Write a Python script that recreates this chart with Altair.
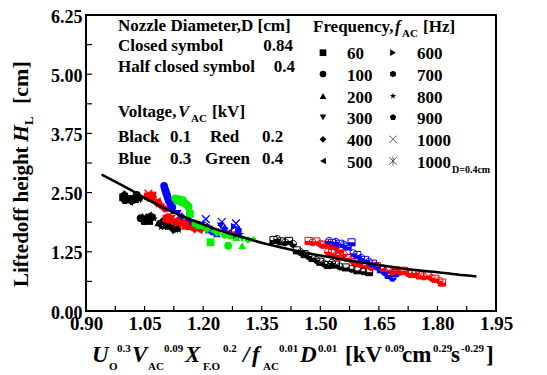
import altair as alt
import pandas as pd

# ---------------- data ----------------
# closed symbols : nozzle D = 0.84 cm
BLK_X = [0.995,1.000,1.005,1.010,1.015,1.020,1.025,1.030,1.035,1.040,0.998,1.012,1.028,
         1.040,1.045,1.050,1.055,1.060,1.065,1.070,1.075,1.048,1.062,
         1.085,1.090,1.095,1.100,1.105,1.110,1.092,1.108,
         1.118,1.122,1.126,1.130,1.134,1.138]
BLK_Y = [2.40,2.34,2.44,2.38,2.32,2.42,2.36,2.45,2.39,2.35,2.47,2.30,2.33,
         1.96,2.00,1.92,1.98,2.02,1.94,1.99,1.95,1.88,1.90,
         1.86,1.82,1.90,1.84,1.80,1.87,1.77,1.78,
         1.76,1.72,1.78,1.70,1.75,1.71]
BLK_F = ['60','100','200','300','400','500','60','100','200','300','400','500','600',
         '100','200','300','400','500','600','700','800','900','60',
         '200','300','400','500','600','700','800','900',
         '300','400','500','600','700','800']

RED_X = [1.058,1.063,1.068,1.073,1.078,1.083,1.088,1.093,1.098,1.103,1.070,1.085,
         1.106,1.110,1.115,1.120,1.125,1.130,1.135,1.140,1.145,1.150,1.155,1.160,
         1.165,1.170,1.178,1.190,1.205,1.220,1.240,1.260,1.278]
RED_Y = [2.42,2.38,2.40,2.35,2.30,2.32,2.26,2.22,2.18,2.15,2.44,2.28,
         1.95,1.98,1.92,1.96,1.88,1.93,1.85,1.90,1.82,1.87,1.80,1.84,
         1.78,1.75,1.72,1.70,1.74,1.72,1.68,1.64,1.60]
RED_F = ['60','100','200','300','400','500','600','700','800','900','60','100',
         '60','100','200','300','400','500','600','700','800','900','60','100',
         '200','300','400','500','600','700','800','900','60']

BLU_X = [1.100,1.102,1.104,1.106,1.108,1.110,1.112,1.115,1.118,1.121,
         1.125,1.135,1.145,1.160,1.175,1.190,1.200,1.210,1.215,1.225,1.235,
         1.245,1.255,1.265,1.280,1.290,1.295,1.285]
BLU_Y = [2.64,2.58,2.53,2.48,2.43,2.38,2.33,2.28,2.23,2.19,
         2.12,2.06,2.00,1.94,1.88,1.82,1.86,1.78,1.72,1.68,1.63,
         1.80,1.74,1.66,1.78,1.70,1.62,1.57]
BLU_F = ['100','100','100','100','100','100','100','100','100','100',
         '200','300','400','500','600','700','800','900','60','100','200',
         '300','400','500','600','700','800','900']

GRN_X = [1.128,1.133,1.138,1.143,1.148,1.153,1.158,1.163,1.166,
         1.180,1.190,1.200,1.210,1.225,1.240,1.255,1.270,1.285,1.300,1.315,1.329,
         1.219,1.264,1.300]
GRN_Y = [2.38,2.33,2.36,2.30,2.34,2.27,2.25,2.20,2.05,
         1.85,1.80,1.77,1.72,1.68,1.64,1.60,1.58,1.55,1.52,1.50,1.52,
         1.45,1.38,1.38]
GRN_F = ['100','100','100','100','100','100','100','100','60',
         '100','200','300','400','500','600','700','900','200','300','400','800',
         '60','100','200']

# 1000 Hz crosses (closed series)
X1K_X = [1.060, 1.207, 1.248, 1.284]
X1K_Y = [2.48, 1.94, 1.88, 1.85]
X1K_V = ['0.2', '0.3', '0.3', '0.3']

# half closed symbols : nozzle D = 0.4 cm
HB_X = [1.380,1.390,1.400,1.410,1.420,1.430,1.440,1.450,1.460,1.470,1.480,1.490,
        1.500,1.510,1.520,1.530,1.540,1.550,1.565,1.580,1.595,1.610,1.625]
HB_Y = [1.50,1.52,1.47,1.45,1.48,1.42,1.28,1.24,1.20,1.16,1.12,1.08,
        1.04,1.00,0.97,1.02,0.98,0.94,0.92,0.89,0.86,0.84,0.82]
HB_S = ['sq','ci','sq','ci','sq','ci','sq','ci','sq','ci','sq','ci',
        'sq','ci','sq','ci','sq','ci','sq','ci','sq','ci','sq']

HR_X = [1.470,1.480,1.490,1.500,1.510,1.520,1.530,1.540,1.550,
        1.520,1.530,1.540,1.550,1.560,1.570,1.580,1.590,
        1.600,1.615,1.630,1.645,1.660,1.675,1.685,
        1.695,1.705,1.715,1.725,1.735,1.745,1.755,1.765,1.775,1.785,1.795,1.805,1.812]
HR_Y = [1.48,1.45,1.47,1.42,1.40,1.44,1.38,1.35,1.30,
        1.25,1.22,1.18,1.15,1.20,1.12,1.08,1.03,
        1.00,0.97,0.93,0.95,0.90,0.86,0.83,
        0.86,0.83,0.85,0.80,0.78,0.80,0.75,0.73,0.75,0.70,0.68,0.64,0.60]
HR_S = ['sq','ci','sq','ci','sq','ci','sq','ci','sq',
        'ci','sq','ci','sq','ci','sq','ci','sq',
        'ci','sq','ci','sq','ci','sq','ci',
        'sq','ci','sq','ci','sq','ci','sq','ci','sq','ci','sq','ci','sq']

HU_X = [1.522,1.530,1.540,1.550,1.560,1.570,1.580,1.585,1.595,1.605,1.615,1.625,
        1.635,1.645,1.655,1.665,1.675,1.685,1.692]
HU_Y = [1.48,1.44,1.46,1.42,1.40,1.36,1.45,1.22,1.18,1.12,1.08,1.04,
        1.00,0.94,0.88,0.82,0.76,0.70,0.80]
HU_S = ['ci','sq','ci','sq','ci','sq','sq','ci','sq','ci','sq','ci',
        'sq','ci','sq','ci','sq','ci','sq']

# fitted curve
FIT_X = [0.94,1.00,1.05,1.10,1.15,1.20,1.25,1.30,1.35,1.40,1.45,1.50,1.55,1.60,
         1.65,1.70,1.75,1.80,1.85,1.90]
FIT_Y = [2.88,2.62,2.39,2.17,1.99,1.83,1.68,1.56,1.44,1.34,1.25,1.17,1.10,1.03,
         0.97,0.91,0.86,0.82,0.77,0.73]

X_LABELS = [0.90,1.05,1.20,1.35,1.50,1.65,1.80,1.95]
Y_LABELS = [0.00,1.25,2.50,3.75,5.00,6.25]
X_TICKS = [0.900,0.975,1.050,1.125,1.200,1.275,1.350,1.425,1.500,1.575,1.650,
           1.725,1.800,1.875,1.950]
Y_TICKS = [0.0,0.625,1.25,1.875,2.5,3.125,3.75,4.375,5.0,5.625,6.25]

VOLTS = ['0.1','0.2','0.3','0.4']
VOLT_COLORS = ['#000000','#ff0000','#0000ff','#00ee00']
FREQS = ['60','100','200','300','400','500','600','700','800','900']
LEG_COL1 = ['60','100','200','300','400','500']
LEG_COL2 = ['600','700','800','900','1000','1000']

# ---------------- symbols ----------------
SQ = "M-1,-1L1,-1L1,1L-1,1Z"
HEX = "M0,-1L0.866,-0.5L0.866,0.5L0,1L-0.866,0.5L-0.866,-0.5Z"
STAR = ("M0,-1L0.235,-0.324L0.951,-0.309L0.38,0.124L0.588,0.809L0,0.4L-0.588,0.809"
        "L-0.38,0.124L-0.951,-0.309L-0.235,-0.324Z")
PENT = "M0,-1L0.951,-0.309L0.588,0.809L-0.588,0.809L-0.951,-0.309Z"
XP = "M-1,-1L1,1M-1,1L1,-1"
AST = "M-1,-1L1,1M-1,1L1,-1M0,-1.2L0,1.2"
CIRC = ("M1,0L0.924,0.383L0.707,0.707L0.383,0.924L0,1L-0.383,0.924L-0.707,0.707"
        "L-0.924,0.383L-1,0L-0.924,-0.383L-0.707,-0.707L-0.383,-0.924L0,-1L0.383,-0.924"
        "L0.707,-0.707L0.924,-0.383Z")
HSQ = "M-1,0L1,0L1,1L-1,1Z"
HCI = ("M1,0L0.924,0.383L0.707,0.707L0.383,0.924L0,1L-0.383,0.924L-0.707,0.707"
       "L-0.924,0.383L-1,0Z")
FREQ_SHAPES = [SQ,'circle','triangle-up','triangle-down','diamond','triangle-left',
               'triangle-right',HEX,STAR,PENT]
LEG_SH1 = [SQ,'circle','triangle-up','triangle-down','diamond','triangle-left']
LEG_SH2 = ['triangle-right',HEX,STAR,PENT,XP,AST]

# ---------------- tables ----------------
rows = []
for xs, ys, fs, v in [(BLK_X,BLK_Y,BLK_F,'0.1'),(RED_X,RED_Y,RED_F,'0.2'),
                      (BLU_X,BLU_Y,BLU_F,'0.3'),(GRN_X,GRN_Y,GRN_F,'0.4')]:
    for a, b, f in zip(xs, ys, fs):
        rows.append({'x': a, 'y': b, 'f': f, 'v': v})
closed = pd.DataFrame(rows)
crosses = pd.DataFrame({'x': X1K_X, 'y': X1K_Y, 'v': X1K_V})
hrows = []
for xs, ys, ss, v in [(HB_X,HB_Y,HB_S,'0.1'),(HR_X,HR_Y,HR_S,'0.2'),(HU_X,HU_Y,HU_S,'0.3')]:
    for a, b, s in zip(xs, ys, ss):
        hrows.append({'x': a, 'y': b, 's': s, 'v': v})
half = pd.DataFrame(hrows)
fit = pd.DataFrame({'x': FIT_X, 'y': FIT_Y})
ONE = pd.DataFrame({'a': [0]})

FONT = "Liberation Serif"
W, H = 410, 296
OX, OY = 86, 15  # page position of the plot origin

XS = alt.Scale(domain=[0.9, 1.95], nice=False, zero=False)
YS = alt.Scale(domain=[0, 6.25], nice=False, zero=False)
XAX = alt.Axis(values=X_LABELS, format='.2f', ticks=False, domain=False, grid=False,
               title=None, labelFont=FONT, labelFontSize=19, labelFontWeight='bold',
               labelColor='black', labelPadding=3, labelOverlap=False, labelFlush=False)
YAX = alt.Axis(values=Y_LABELS, format='.2f', ticks=False, domain=False, grid=False,
               title=None, labelFont=FONT, labelFontSize=18, labelFontWeight='bold',
               labelColor='black', labelPadding=4, labelOffset=2, labelOverlap=False,
               labelFlush=False)
CS = alt.Scale(domain=VOLTS, range=VOLT_COLORS)


def ex(f='x'):
    return alt.X(f + ':Q', scale=XS, axis=XAX)


def ey(f='y'):
    return alt.Y(f + ':Q', scale=YS, axis=YAX)


def col():
    return alt.Color('v:N', scale=CS, legend=None)


layers = []
layers.append(alt.Chart(closed).mark_point(filled=True, size=60, opacity=1).encode(
    x=ex(), y=ey(), color=col(),
    shape=alt.Shape('f:N', scale=alt.Scale(domain=FREQS, range=FREQ_SHAPES), legend=None)))
layers.append(alt.Chart(crosses).mark_point(shape=XP, filled=False, size=60, strokeWidth=1.3,
                                            opacity=1).encode(x=ex(), y=ey(), color=col()))
for code, outline, hp in [('sq', SQ, HSQ), ('ci', CIRC, HCI)]:
    base = alt.Chart(half).transform_filter(alt.datum.s == code)
    layers.append(base.mark_point(shape=outline, filled=False, size=50, strokeWidth=1,
                                  opacity=1).encode(x=ex(), y=ey(), color=col()))
    layers.append(base.mark_point(shape=hp, filled=True, size=50, opacity=1).encode(
        x=ex(), y=ey(), color=col()))
layers.append(alt.Chart(fit).mark_line(color='black', strokeWidth=2.5,
                                       interpolate='monotone').encode(x=ex(), y=ey()))
# inward ticks
layers.append(alt.Chart(pd.DataFrame({'x': X_TICKS})).mark_rule(color='black', strokeWidth=1.2)
              .encode(x=ex(), y=alt.value(H), y2=alt.value(H - 5)))
layers.append(alt.Chart(pd.DataFrame({'y': Y_TICKS})).mark_rule(color='black', strokeWidth=1.2)
              .encode(y=ey(), x=alt.value(0), x2=alt.value(6)))


def T(s, sx, sy, size=17, align='left', style='normal', angle=None):
    kw = dict(text=s, font=FONT, fontSize=size, fontWeight='bold', fontStyle=style,
              align=align, baseline='alphabetic', color='black')
    if angle is not None:
        kw['angle'] = angle
    return alt.Chart(ONE).mark_text(**kw).encode(x=alt.value(sx - OX), y=alt.value(sy - OY))


def P(shape, sx, sy, filled=True, color='black', size=45):
    kw = dict(shape=shape, filled=filled, size=size, opacity=1, color=color)
    if not filled:
        kw['strokeWidth'] = 1
    return alt.Chart(ONE).mark_point(**kw).encode(x=alt.value(sx - OX), y=alt.value(sy - OY))


# left annotation block
layers += [
    T("Nozzle Diameter,D [cm]", 118, 31),
    T("Closed symbol", 118, 51), T("0.84", 293, 51, align='right'),
    T("Half closed symbol", 118, 72), T("0.4", 295, 72, align='right'),
    T("Voltage,", 118, 117), T("V", 178, 117, style='italic'), T("AC", 191, 122, size=11),
    T("[kV]", 212, 117),
    T("Black", 118, 142), T("0.1", 170, 142), T("Red", 210, 142), T("0.2", 262, 142),
    T("Blue", 118, 164), T("0.3", 170, 164), T("Green", 205, 164), T("0.4", 262, 164),
]
# frequency legend
layers += [T("Frequency,", 313, 32), T("f", 395, 32, style='italic'),
           T("AC", 402, 37, size=11), T("[Hz]", 423, 32)]
ROW_Y = [52.7, 74, 96, 117.3, 139.3, 161]
for i, ry in enumerate(ROW_Y):
    layers.append(P(LEG_SH1[i], 323, ry))
    layers.append(T(LEG_COL1[i], 347, ry + 6.5))
    if i < 4:
        layers.append(P(LEG_SH2[i], 393, ry))
    else:
        layers.append(P(LEG_SH2[i], 393, ry, filled=False, color='#555555', size=55))
    layers.append(T(LEG_COL2[i], 417, ry + 6.5))
layers.append(T("D=0.4cm", 452, 173, size=10))

# y axis title (rotated)
layers += [T("Liftedoff height", 28, 287, size=21, angle=270),
           T("H", 28, 142, size=22, style='italic', angle=270),
           T("L", 33, 125, size=13, angle=270),
           T("[cm]", 28, 104, size=22, angle=270)]

# x axis title
MB, SB, UB = 362, 370, 352
for s, xx, kind in [("U", 92, 'mi'), ("O", 109, 's'), ("0.3", 117, 'u'),
                    ("V", 132, 'mi'), ("AC", 148, 's'), ("0.09", 164, 'u'),
                    ("X", 185, 'mi'), ("F.O", 203, 's'), ("0.2", 223, 'u'),
                    ("/", 243, 'mi'), ("f", 252, 'mi'), ("AC", 263, 's'), ("0.01", 279, 'u'),
                    ("D", 300, 'mi'), ("0.01", 318, 'u'),
                    ("[kV", 345, 'm'), ("0.09", 385, 'u'), ("cm", 402, 'm'),
                    ("0.29", 433, 'u'), ("s", 451, 'm'), ("-0.29", 461, 'u'), ("]", 486, 'm')]:
    if kind == 'mi':
        layers.append(T(s, xx, MB, size=23, style='italic'))
    elif kind == 'm':
        layers.append(T(s, xx, MB, size=23))
    elif kind == 's':
        layers.append(T(s, xx, SB, size=11))
    else:
        layers.append(T(s, xx, UB, size=11))

chart = alt.layer(*layers).properties(
    width=W, height=H, autosize='none',
    padding={'left': OX - 8, 'top': OY - 8, 'right': 30, 'bottom': 367 - (OY - 8) - H}
).configure_view(stroke='black', strokeWidth=2)

chart.save("out.html", embed_options={"renderer": "svg", "actions": False})
